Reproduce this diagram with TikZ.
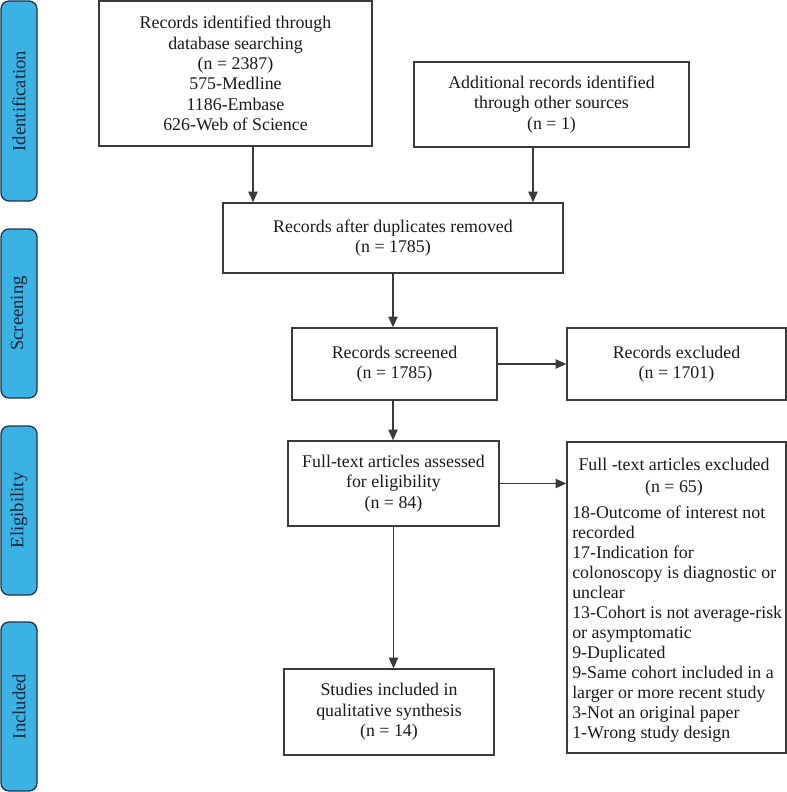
\documentclass[tikz,border=0pt]{standalone}
\usepackage{fontspec}
\setmainfont{Liberation Serif}
\usetikzlibrary{arrows.meta}
\definecolor{sideblue}{HTML}{3BB2E4}
\definecolor{sideedge}{HTML}{1D3550}
\definecolor{boxedge}{HTML}{3A3A3A}
\definecolor{txt}{HTML}{1A1A1A}
\tikzset{
  box/.style={draw=boxedge, line width=1.1pt, rectangle, inner sep=0pt, align=center, text=txt,
    font=\fontsize{13.4}{15.3}\selectfont},
  side/.style={draw=sideedge, fill=sideblue, line width=1pt, rounded corners=6pt, rectangle,
    minimum width=27pt, inner sep=0pt},
  sidetext/.style={rotate=90, text=sideedge!70!black, font=\fontsize{14}{16}\selectfont, inner sep=0pt},
  arr/.style={draw=boxedge, line width=0.9pt, -{Triangle[length=8pt,width=7pt]}},
  plain/.style={inner sep=0pt, text=txt, font=\fontsize{13.4}{15.3}\selectfont}
}
\begin{document}
\begin{tikzpicture}[x=0.75pt, y=-0.75pt]
\useasboundingbox (0,0) rectangle (787,792);
% side bars
\node[side, minimum height=150pt] (sid) at (19,101) {};
\node[sidetext] (sidt) at (sid.center) {Identification};
\node[side, minimum height=126.75pt] (sscr) at (19,313.5) {};
\node[sidetext] (sscrt) at (sscr.center) {Screening};
\node[side, minimum height=126.75pt] (selg) at (19,510.5) {};
\node[sidetext] (selgt) at (selg.center) {Eligibility};
\node[side, minimum height=126.75pt] (sinc) at (19,706.5) {};
\node[sidetext] (sinct) at (sinc.center) {Included};
% boxes
\node[box, minimum width=204.75pt, minimum height=108.75pt] (b1) at (235.5,73.5)
  {Records identified through\\database searching\\(n = 2387)\\575-Medline\\1186-Embase\\626-Web of Science};
\node[box, minimum width=206.25pt, minimum height=63.75pt] (b2) at (551.5,104.5)
  {Additional records identified\\through other sources\\(n = 1)};
\node[box, minimum width=255pt, minimum height=52.5pt] (b3) at (393,238)
  {Records after duplicates removed\\(n = 1785)};
\node[box, minimum width=153.75pt, minimum height=54pt] (b4) at (394.5,364)
  {Records screened\\(n = 1785)};
\node[box, minimum width=164.25pt, minimum height=54pt] (b5) at (676.5,364)
  {Records excluded\\(n = 1701)};
\node[box, minimum width=158.25pt, minimum height=63.75pt] (b6) at (393.5,483.5)
  {Full-text articles assessed\\for eligibility\\(n = 84)};
\node[box, minimum width=164.25pt, minimum height=233.25pt] (b7) at (676.5,597.5) {};
\node[plain, align=center, font=\fontsize{13.4}{16.3}\selectfont] (b7h) at (674,477)
  {Full -text articles excluded\\(n = 65)};
\node[plain, align=left, anchor=north west, font=\fontsize{13.4}{15}\selectfont] (b7l) at (572,506)
  {18-Outcome of interest not\\recorded\\17-Indication for\\colonoscopy is diagnostic or\\unclear\\13-Cohort is not average-risk\\or asymptomatic\\9-Duplicated\\9-Same cohort included in a\\larger or more recent study\\3-Not an original paper\\1-Wrong study design};
\node[box, minimum width=157.5pt, minimum height=64.5pt] (b8) at (389,712)
  {Studies included in\\qualitative synthesis\\(n = 14)};
% connector anchors
\coordinate (cl) at (253,0);
\coordinate (cr) at (533,0);
\draw[arr] (b1.south -| cl) -- (b3.north -| cl);
\draw[arr] (b2.south -| cr) -- (b3.north -| cr);
\draw[arr] (b3.south) -- (b4.north -| b3.south);
\draw[arr] (b4.south -| b3.south) -- (b6.north -| b3.south);
\draw[arr] (b6.south) -- (b8.north -| b6.south);
\draw[arr] (b4.east) -- (b5.west);
\draw[arr] (b6.east) -- (b7.west |- b6.east);
\end{tikzpicture}
\end{document}
